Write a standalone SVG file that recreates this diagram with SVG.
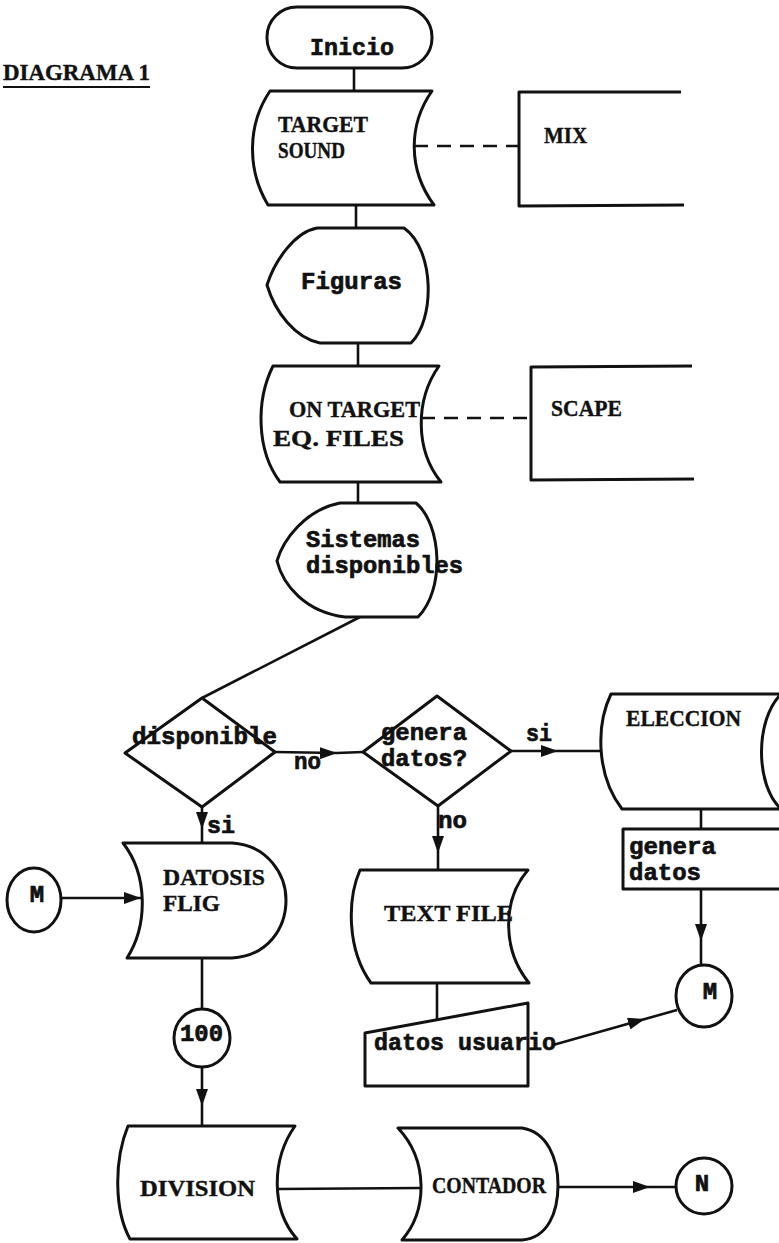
<svg xmlns="http://www.w3.org/2000/svg" width="779" height="1243" viewBox="0 0 779 1243">
<style>
.s{fill:#fff;stroke:#111;stroke-width:3;stroke-linejoin:round}
.o{fill:none;stroke:#111;stroke-width:3;stroke-linejoin:round}
.c{fill:none;stroke:#111;stroke-width:2.6}
.d{fill:none;stroke:#111;stroke-width:2.6;stroke-dasharray:14 9}
.u{font-family:"Liberation Serif","DejaVu Serif",serif;font-weight:bold;font-size:24px;fill:#111;stroke:#111;stroke-width:0.4}
.t{font-family:"Liberation Mono","DejaVu Sans Mono",monospace;font-weight:bold;font-size:24px;fill:#111;stroke:#111;stroke-width:0.7}
.m{text-anchor:middle}
</style>
<defs>
<marker id="ah" viewBox="0 0 17 12" refX="17" refY="6" markerWidth="17" markerHeight="12" markerUnits="userSpaceOnUse" orient="auto">
<path d="M0,0 L17,6 L0,12 Z" fill="#111"/>
</marker>
</defs>
<rect width="779" height="1243" fill="#fff"/>

<g id="title">
<text class="u" x="3" y="80" font-size="22" textLength="147" lengthAdjust="spacingAndGlyphs">DIAGRAMA 1</text>
<line x1="3" y1="87" x2="150" y2="87" stroke="#111" stroke-width="2.2"/>
</g>

<g id="connectors">
<line class="c" x1="354" y1="68" x2="354" y2="91"/>
<line class="d" x1="414" y1="146" x2="519" y2="146"/>
<line class="c" x1="356" y1="205" x2="356" y2="228"/>
<line class="c" x1="358" y1="343" x2="358" y2="366"/>
<line class="d" x1="421" y1="418" x2="531" y2="418"/>
<line class="c" x1="358" y1="482" x2="358" y2="503"/>
<line class="c" x1="360" y1="617" x2="202" y2="698"/>
<path class="c" d="M275,752 L337,753 L363,752" marker-mid="url(#ah)"/>
<path class="c" d="M511,751 L558,751 L601,751" marker-mid="url(#ah)"/>
<path class="c" d="M202,807 L202,829 L202,843" marker-mid="url(#ah)"/>
<path class="c" d="M438,806 L438,853 L438,870" marker-mid="url(#ah)"/>
<line class="c" x1="701" y1="809" x2="701" y2="829"/>
<path class="c" d="M701,889 L701,941 L701,965" marker-mid="url(#ah)"/>
<line class="c" x1="437" y1="983" x2="437" y2="1020"/>
<path class="c" d="M553,1045 L645,1019 L677,1010" marker-mid="url(#ah)"/>
<path class="c" d="M61,898 L141,898" marker-end="url(#ah)"/>
<line class="c" x1="202" y1="958" x2="202" y2="1009"/>
<path class="c" d="M202,1067 L202,1106 L202,1126" marker-mid="url(#ah)"/>
<line class="c" x1="277" y1="1189" x2="421" y2="1188"/>
<path class="c" d="M558,1187 L650,1187 L676,1187" marker-mid="url(#ah)"/>
</g>

<g id="inicio">
<rect class="s" x="267" y="7" width="165" height="61" rx="30"/>
<text class="t" x="310" y="55" textLength="84" lengthAdjust="spacingAndGlyphs">Inicio</text>
</g>

<g id="target-sound">
<path class="s" d="M270,91 L432,91 C408,125 408,170 434,205 L268,205 C247,170 247,125 270,91 Z"/>
<text class="u" x="278" y="132" textLength="90" lengthAdjust="spacingAndGlyphs">TARGET</text>
<text class="u" x="278" y="158" textLength="67" lengthAdjust="spacingAndGlyphs">SOUND</text>
</g>

<g id="mix">
<path class="o" d="M681,92 L519,92 L519,206 L684,205"/>
<text class="u" x="544" y="143" textLength="43" lengthAdjust="spacingAndGlyphs">MIX</text>
</g>

<g id="figuras">
<path class="s" d="M317,228 L404,228 C435,250 435,320 411,343 L320,343 C295,338 275,312 267,285 C275,260 295,232 317,228 Z"/>
<text class="t" x="301" y="289" textLength="101" lengthAdjust="spacingAndGlyphs">Figuras</text>
</g>

<g id="on-target">
<path class="s" d="M273,366 L439,366 C415,400 415,450 441,482 L280,482 C256,450 256,400 273,366 Z"/>
<text class="u" x="289" y="417" textLength="131" lengthAdjust="spacingAndGlyphs">ON TARGET</text>
<text class="u" x="273" y="446" textLength="131" lengthAdjust="spacingAndGlyphs">EQ. FILES</text>
</g>

<g id="scape">
<path class="o" d="M692,366 L531,367 L531,480 L694,479"/>
<text class="u" x="551" y="416" textLength="71" lengthAdjust="spacingAndGlyphs">SCAPE</text>
</g>

<g id="sistemas">
<path class="s" d="M340,503 L416,503 C442,525 445,590 418,617 L345,617 C305,612 283,585 277,561 C283,540 305,510 340,503 Z"/>
<text class="t" x="306" y="547" textLength="114" lengthAdjust="spacingAndGlyphs">Sistemas</text>
<text class="t" x="306" y="573" textLength="157" lengthAdjust="spacingAndGlyphs">disponibles</text>
</g>

<g id="disponible">
<path class="s" d="M202,698 L275,752 L202,807 L125,753 Z"/>
<text class="t" x="132" y="744" textLength="145" lengthAdjust="spacingAndGlyphs">disponible</text>
<text class="t" x="294" y="769" textLength="27" lengthAdjust="spacingAndGlyphs">no</text>
<text class="t" x="207" y="833" textLength="28" lengthAdjust="spacingAndGlyphs">si</text>
</g>

<g id="genera-datos-q">
<path class="s" d="M437,696 L511,751 L438,806 L363,752 Z"/>
<text class="t" x="381" y="740" textLength="86" lengthAdjust="spacingAndGlyphs">genera</text>
<text class="t" x="381" y="766" textLength="86" lengthAdjust="spacingAndGlyphs">datos?</text>
<text class="t" x="526" y="741" textLength="26" lengthAdjust="spacingAndGlyphs">si</text>
<text class="t" x="438" y="828" textLength="29" lengthAdjust="spacingAndGlyphs">no</text>
</g>

<g id="eleccion">
<path class="s" d="M611,694 L781,694 C755,720 755,785 781,809 L622,809 C596,775 596,725 611,694 Z"/>
<text class="u" x="626" y="726" textLength="115" lengthAdjust="spacingAndGlyphs">ELECCION</text>
</g>

<g id="genera-datos">
<rect class="s" x="623" y="829" width="175" height="60"/>
<text class="t" x="629" y="854" textLength="87" lengthAdjust="spacingAndGlyphs">genera</text>
<text class="t" x="629" y="880" textLength="72" lengthAdjust="spacingAndGlyphs">datos</text>
</g>

<g id="connector-m-right">
<ellipse class="s" cx="704" cy="996" rx="28" ry="31"/>
<text class="t m" x="710" y="999">M</text>
</g>

<g id="text-file">
<path class="s" d="M360,870 L528,870 C502,900 502,950 529,983 L371,983 C347,950 347,900 360,870 Z"/>
<text class="u" x="384" y="921" textLength="129" lengthAdjust="spacingAndGlyphs">TEXT FILE</text>
</g>

<g id="datos-usuario">
<path class="s" d="M365,1033 L528,1003 L528,1086 L365,1086 Z"/>
<text class="t" x="374" y="1050" textLength="182" lengthAdjust="spacingAndGlyphs">datos usuario</text>
</g>

<g id="connector-m-left">
<ellipse class="s" cx="34" cy="900" rx="27" ry="32"/>
<text class="t m" x="37" y="902">M</text>
</g>

<g id="datosis">
<path class="s" d="M123,843 L232,843 C268,845 286,875 286,900 C286,928 268,956 232,958 L127,958 C148,925 148,875 123,843 Z"/>
<text class="u" x="163" y="885" textLength="102" lengthAdjust="spacingAndGlyphs">DATOSIS</text>
<text class="u" x="163" y="911" textLength="57" lengthAdjust="spacingAndGlyphs">FLIG</text>
</g>

<g id="c100">
<ellipse class="s" cx="202" cy="1038" rx="28" ry="29"/>
<text class="t" x="180" y="1041" textLength="43" lengthAdjust="spacingAndGlyphs">100</text>
</g>

<g id="division">
<path class="s" d="M128,1126 L295,1126 C271,1160 271,1210 297,1239 L130,1239 C114,1210 114,1160 128,1126 Z"/>
<text class="u" x="140" y="1196" textLength="115" lengthAdjust="spacingAndGlyphs">DIVISION</text>
</g>

<g id="contador">
<path class="s" d="M398,1128 L522,1128 C548,1132 558,1160 558,1185 C558,1212 548,1238 522,1240 L402,1240 C428,1210 428,1160 398,1128 Z"/>
<text class="u" x="432" y="1193" textLength="114" lengthAdjust="spacingAndGlyphs">CONTADOR</text>
</g>

<g id="connector-n">
<ellipse class="s" cx="704" cy="1186" rx="28" ry="28"/>
<text class="t m" x="702" y="1191">N</text>
</g>
</svg>
